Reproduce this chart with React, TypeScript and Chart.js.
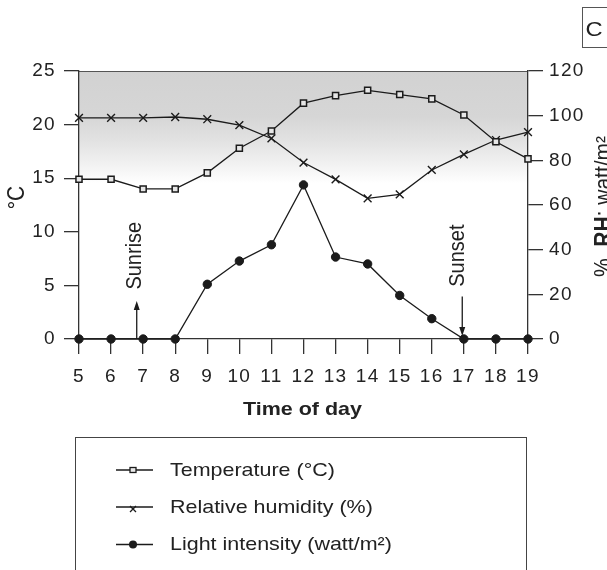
import React, { useEffect, useRef } from 'react';
import { Chart, registerables } from 'chart.js';

Chart.register(...registerables);

// ---- data ----
const hours = [5, 6, 7, 8, 9, 10, 11, 12, 13, 14, 15, 16, 17, 18, 19];
const temperature = [14.9, 14.9, 14.0, 14.0, 15.5, 17.8, 19.4, 22.0, 22.7, 23.2, 22.8, 22.4, 20.9, 18.4, 16.8];
const humidity = [99.0, 99.0, 99.0, 99.4, 98.4, 95.8, 89.8, 79.0, 71.5, 63.0, 64.8, 75.7, 82.7, 89.1, 92.6];
const light = [0, 0, 0, 0, 24.5, 34.9, 42.2, 69.0, 36.7, 33.6, 19.5, 9.1, 0, 0, 0];
const tempTicks = [0, 5, 10, 15, 20, 25];
const rightTicks = [0, 20, 40, 60, 80, 100, 120];
const seriesLabels = ['Temperature (°C)', 'Relative humidity (%)', 'Light intensity (watt/m²)'];
const xTitle = 'Time of day';
const leftTitle = '°C';
const rightTitleParts = ['%, ', 'RH', '; watt/m²'];
const panelLetter = 'C';
const sunriseLabel = 'Sunrise';
const sunsetLabel = 'Sunset';
const sunriseHour = 6.8;
const sunsetHour = 16.95;

// ---- style ----
const FONT = '"Liberation Sans", Arial, Helvetica, sans-serif';
const INK = '#1b1b1b';
const TXT = '#222';
const AXIS = '#333';
const SX = 1.13;

function vText(ctx: CanvasRenderingContext2D, text: string, cx: number, cy: number, font: string, sx: number) {
  ctx.save();
  ctx.translate(cx, cy);
  ctx.scale(sx, 1);
  ctx.rotate(-Math.PI / 2);
  ctx.font = font;
  ctx.textAlign = 'center';
  ctx.textBaseline = 'middle';
  ctx.fillText(text, 0, 0);
  ctx.restore();
}

function hText(ctx: CanvasRenderingContext2D, text: string, x: number, y: number, font: string, align: CanvasTextAlign) {
  ctx.save();
  ctx.font = font;
  const w = ctx.measureText(text).width * SX;
  let x0 = x;
  if (align === 'center') x0 = x - w / 2;
  else if (align === 'right') x0 = x - w;
  ctx.translate(x0, y);
  ctx.scale(SX, 1);
  ctx.textAlign = 'left';
  ctx.textBaseline = 'alphabetic';
  ctx.fillText(text, 0, 0);
  ctx.restore();
}

function arrow(ctx: CanvasRenderingContext2D, x: number, yFrom: number, yTo: number) {
  const dir = Math.sign(yTo - yFrom);
  ctx.beginPath();
  ctx.moveTo(x, yFrom);
  ctx.lineTo(x, yTo - dir * 6);
  ctx.stroke();
  ctx.beginPath();
  ctx.moveTo(x, yTo);
  ctx.lineTo(x - 3, yTo - dir * 9);
  ctx.lineTo(x + 3, yTo - dir * 9);
  ctx.closePath();
  ctx.fill();
}

const decor = {
  id: 'decor',
  beforeDraw(chart: any) {
    const { ctx, chartArea: a } = chart;
    ctx.letterSpacing = '1.35px';
    ctx.save();
    ctx.letterSpacing = '0px';
    const h = a.bottom - a.top;
    const g = ctx.createLinearGradient(0, a.top, 0, a.bottom);
    g.addColorStop(0, '#d2d2d2');
    g.addColorStop(0.17, '#d6d6d6');
    g.addColorStop(0.26, '#e2e2e2');
    g.addColorStop(0.34, '#f0f0f0');
    g.addColorStop(0.42, '#ffffff');
    g.addColorStop(1, '#ffffff');
    ctx.fillStyle = g;
    ctx.fillRect(a.left, a.top, a.right - a.left, h);
    ctx.strokeStyle = '#555';
    ctx.lineWidth = 1.2;
    ctx.beginPath();
    ctx.moveTo(a.left, a.top + 0.5);
    ctx.lineTo(a.right, a.top + 0.5);
    ctx.stroke();
    ctx.restore();
  },
  afterDraw(chart: any) {
    const { ctx } = chart;
    const xs = chart.scales.x;
    const yr = chart.scales.y1;
    ctx.save();
    ctx.letterSpacing = '0px';
    ctx.fillStyle = TXT;
    ctx.strokeStyle = INK;
    ctx.lineWidth = 1.3;

    // axis titles
    hText(ctx, xTitle, 302.5, 415, `bold 19px ${FONT}`, 'center');
    vText(ctx, leftTitle, 17.5, 197.5, `21px ${FONT}`, 1.1);

    // right title (mixed weights), clipped by canvas edge
    ctx.save();
    ctx.translate(611, 206.5);
    ctx.scale(1.1, 1);
    ctx.rotate(-Math.PI / 2);
    ctx.textBaseline = 'alphabetic';
    ctx.textAlign = 'left';
    const fonts = [`21px ${FONT}`, `bold 21px ${FONT}`, `21px ${FONT}`];
    const widths = rightTitleParts.map((t, i) => { ctx.font = fonts[i]; return ctx.measureText(t).width; });
    let px = -widths.reduce((s, w) => s + w, 0) / 2;
    rightTitleParts.forEach((t, i) => { ctx.font = fonts[i]; ctx.fillText(t, px, 0); px += widths[i]; });
    ctx.restore();

    // sunrise / sunset
    const sx1 = xs.getPixelForValue(sunriseHour);
    const sx2 = xs.getPixelForValue(sunsetHour);
    ctx.fillStyle = INK;
    arrow(ctx, sx1, yr.getPixelForValue(0), yr.getPixelForValue(17));
    arrow(ctx, sx2, yr.getPixelForValue(19), yr.getPixelForValue(1.3));
    ctx.fillStyle = TXT;
    const ty = yr.getPixelForValue(37.3);
    vText(ctx, sunriseLabel, sx1 - 1.5, ty, `20px ${FONT}`, 1.1);
    vText(ctx, sunsetLabel, sx2 - 4, ty, `20px ${FONT}`, 1.1);

    // legend box
    ctx.strokeStyle = '#444';
    ctx.lineWidth = 1;
    ctx.strokeRect(75.5, 437.5, 451, 150);
    const rows = [470, 507, 544.5];
    const bases = [476, 512.5, 549.5];
    ctx.strokeStyle = INK;
    ctx.lineWidth = 1.3;
    rows.forEach((y, i) => {
      ctx.beginPath();
      ctx.moveTo(116, y);
      ctx.lineTo(153, y);
      ctx.stroke();
      const mx = 133;
      if (i === 0) {
        ctx.fillStyle = '#e8e8e8';
        ctx.fillRect(mx - 3, y - 2.5, 6, 5);
        ctx.strokeRect(mx - 3, y - 2.5, 6, 5);
      } else if (i === 1) {
        ctx.beginPath();
        ctx.moveTo(mx - 3, y - 1); ctx.lineTo(mx + 3, y + 5);
        ctx.moveTo(mx + 3, y - 1); ctx.lineTo(mx - 3, y + 5);
        ctx.stroke();
      } else {
        ctx.fillStyle = INK;
        ctx.beginPath();
        ctx.arc(mx, y, 4, 0, Math.PI * 2);
        ctx.fill();
      }
      ctx.fillStyle = TXT;
      hText(ctx, seriesLabels[i], 170, bases[i], `19px ${FONT}`, 'left');
    });

    // panel letter box
    ctx.strokeStyle = '#555';
    ctx.lineWidth = 1;
    ctx.strokeRect(582.5, 7.5, 40, 40);
    ctx.fillStyle = TXT;
    hText(ctx, panelLetter, 594, 36, `21px ${FONT}`, 'center');
    ctx.restore();
  },
};

const grid = {
  display: true,
  drawOnChartArea: false,
  drawTicks: true,
  tickLength: 15,
  color: AXIS,
  lineWidth: 1.3,
};
const border = { display: true, color: AXIS, width: 1.3 };
const tickFont = { family: FONT, size: 19 };

export default function App() {
  const ref = useRef<HTMLCanvasElement>(null);
  useEffect(() => {
    const canvas = ref.current;
    if (!canvas) return;
    const pts = (arr: number[]) => hours.map((h, i) => ({ x: h, y: arr[i] }));
    const chart = new Chart(canvas, {
      type: 'line',
      data: {
        datasets: [
          {
            label: seriesLabels[0],
            data: pts(temperature),
            yAxisID: 'y',
            borderColor: INK,
            borderWidth: 1.3,
            pointStyle: 'rect',
            pointRadius: 4.3,
            pointBackgroundColor: '#e6e6e6',
            pointBorderColor: INK,
            pointBorderWidth: 1.5,
            tension: 0,
            clip: false,
          },
          {
            label: seriesLabels[1],
            data: pts(humidity),
            yAxisID: 'y1',
            borderColor: INK,
            borderWidth: 1.3,
            pointStyle: 'crossRot',
            pointRadius: 5.5,
            pointBorderColor: INK,
            pointBorderWidth: 1.4,
            tension: 0,
            clip: false,
          },
          {
            label: seriesLabels[2],
            data: pts(light),
            yAxisID: 'y1',
            borderColor: INK,
            borderWidth: 1.3,
            pointStyle: 'circle',
            pointRadius: 4.2,
            pointBackgroundColor: INK,
            pointBorderColor: INK,
            pointBorderWidth: 1,
            tension: 0,
            clip: false,
          },
        ],
      } as any,
      options: {
        animation: false,
        responsive: false,
        devicePixelRatio: 1,
        events: [],
        layout: { padding: { top: 71, left: 0, right: 0, bottom: 0 } },
        plugins: { legend: { display: false }, tooltip: { enabled: false }, title: { display: false } },
        scales: {
          x: {
            type: 'linear',
            min: 5,
            max: 19,
            afterBuildTicks: (s: any) => { s.ticks = hours.map((v) => ({ value: v })); },
            afterFit: (s: any) => { s.height = 231; },
            ticks: { autoSkip: false, maxRotation: 0, minRotation: 0, padding: 11, font: tickFont, color: TXT, callback: (v: any) => String(v) },
            grid,
            border,
          },
          y: {
            position: 'left',
            min: 0,
            max: 25,
            afterBuildTicks: (s: any) => { s.ticks = tempTicks.map((v) => ({ value: v })); },
            afterFit: (s: any) => { s.width = 79; },
            ticks: { padding: 8, font: tickFont, color: TXT },
            grid,
            border,
          },
          y1: {
            position: 'right',
            min: 0,
            max: 120,
            afterBuildTicks: (s: any) => { s.ticks = rightTicks.map((v) => ({ value: v })); },
            afterFit: (s: any) => { s.width = 79; },
            ticks: { padding: 6, font: tickFont, color: TXT },
            grid,
            border,
          },
        },
      } as any,
      plugins: [decor],
    });
    return () => chart.destroy();
  }, []);
  return (
    <div style={{ position: 'fixed', left: 0, top: 0, width: 607, height: 570, background: '#fff', overflow: 'hidden' }}>
      <canvas ref={ref} width={607} height={570} style={{ display: 'block', width: 607, height: 570 }} />
    </div>
  );
}
